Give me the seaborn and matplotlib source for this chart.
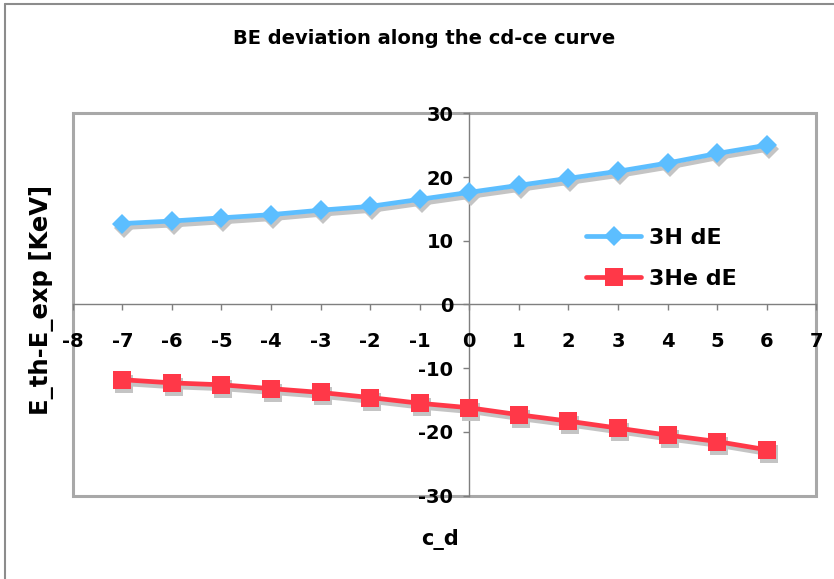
import matplotlib
matplotlib.use("Agg")
import matplotlib.pyplot as plt
import matplotlib.transforms as mtransforms
from matplotlib.patches import Rectangle
from matplotlib.lines import Line2D
import seaborn as sns

# c_d values along the curve and binding-energy deviations (keV)
c_d = [-7, -6, -5, -4, -3, -2, -1, 0, 1, 2, 3, 4, 5, 6]
de_3h = [12.7, 13.1, 13.6, 14.1, 14.8, 15.4, 16.5, 17.6, 18.7, 19.8, 20.9, 22.2, 23.7, 25.0]
de_3he = [-11.8, -12.3, -12.6, -13.2, -13.8, -14.6, -15.5, -16.2, -17.3, -18.3, -19.4, -20.5, -21.5, -22.8]
series_names = ["3H dE", "3He dE"]
x_ticks = list(range(-8, 8))
y_ticks = [-30, -20, -10, 0, 10, 20, 30]

sns.set_style("white")
plt.rcParams["font.family"] = ["DejaVu Sans"]
plt.rcParams["font.weight"] = "bold"
plt.rcParams["axes.unicode_minus"] = False
plt.rcParams["text.color"] = "black"
plt.rcParams["xtick.labelcolor"] = "black"
plt.rcParams["ytick.labelcolor"] = "black"

BLUE = "#5CBEFF"
RED = "#FF3848"
SHADOW = "#C4C4C4"
AXIS_GREY = "#7F7F7F"
FRAME_GREY = "#A8A8A8"

fig = plt.figure(figsize=(8.34, 5.79), dpi=100)
ax = fig.add_axes([0.0872, 0.1439, 0.8916, 0.6604])

# drop shadows, slightly offset down/right
shadow_tr = ax.transData + mtransforms.ScaledTranslation(2 / 100, -4 / 100, fig.dpi_scale_trans)
for vals, mk, ms in [(de_3h, "D", 10), (de_3he, "s", 13.5)]:
    sns.lineplot(x=c_d, y=vals, ax=ax, color=SHADOW, marker=mk, markersize=ms,
                 markeredgewidth=0, linewidth=3.4, transform=shadow_tr,
                 zorder=2, legend=False)

sns.lineplot(x=c_d, y=de_3h, ax=ax, color=BLUE, marker="D", markersize=10,
             markeredgewidth=0, linewidth=3.4, label=series_names[0], zorder=3)
sns.lineplot(x=c_d, y=de_3he, ax=ax, color=RED, marker="s", markersize=13.5,
             markeredgewidth=0, linewidth=3.4, label=series_names[1], zorder=3)

ax.set_xlim(-8, 7)
ax.set_ylim(-30, 30)
ax.set_xticks(x_ticks)
ax.set_yticks(y_ticks)
ax.set_xlabel("")
ax.set_ylabel("")

# axes crossing at the origin
ax.spines["left"].set_position(("data", 0))
ax.spines["bottom"].set_position(("data", 0))
ax.spines["top"].set_visible(False)
ax.spines["right"].set_visible(False)
for s in ("left", "bottom"):
    ax.spines[s].set_color(AXIS_GREY)
    ax.spines[s].set_linewidth(1)
    ax.spines[s].set_zorder(1.5)
ax.tick_params(axis="both", which="major", bottom=True, left=True, direction="out",
               length=4.5, width=1, color=AXIS_GREY, labelsize=14)
ax.tick_params(axis="x", pad=15)
ax.tick_params(axis="y", pad=7)
ax.xaxis.set_zorder(4)
ax.yaxis.set_zorder(4)

# plot-area frame
ax.add_patch(Rectangle((0, 0), 1, 1, transform=ax.transAxes, fill=False,
                       edgecolor=FRAME_GREY, linewidth=2.2, clip_on=False, zorder=0.5))

leg = ax.legend(loc="center left", bbox_to_anchor=(0.690, 0.620), frameon=False,
                fontsize=16, handlelength=2.5, handletextpad=0.35, labelspacing=0.95,
                borderpad=0, borderaxespad=0)

fig.text(424.5 / 834, 1 - 38 / 579, "BE deviation along the cd-ce curve",
         ha="center", va="center", fontsize=14, fontweight="bold")
fig.text(440 / 834, 1 - 540 / 579, "c_d", ha="center", va="center",
         fontsize=15, fontweight="bold")
fig.text(42 / 834, 1 - 300 / 579, "E_th-E_exp [KeV]", ha="center", va="center",
         rotation=90, fontsize=17.5, fontweight="bold")

# outer border (top and left edges)
fig.add_artist(Line2D([5 / 834, 1], [1 - 4 / 579, 1 - 4 / 579], transform=fig.transFigure,
                      color="#8C8C8C", linewidth=1.5))
fig.add_artist(Line2D([5 / 834, 5 / 834], [0, 1 - 4 / 579], transform=fig.transFigure,
                      color="#8C8C8C", linewidth=1.5))

fig.savefig("out.png", dpi=100)
